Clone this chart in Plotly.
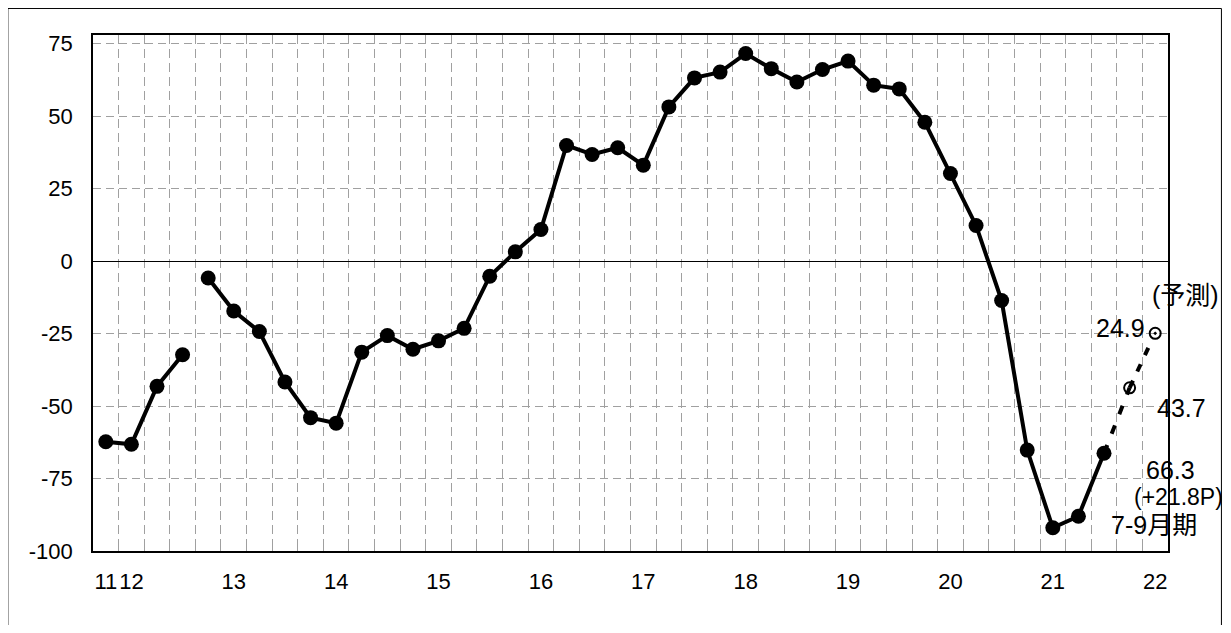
import plotly.graph_objects as go

# category index 0 = 2011 Q4 ... 41 = 2022 Q1
year_tick_pos = [0, 1, 5, 9, 13, 17, 21, 25, 29, 33, 37, 41]
year_tick_text = ["11", "12", "13", "14", "15", "16", "17", "18", "19", "20", "21", "22"]

old_x = [0, 1, 2, 3]
old_vals = [-62.3, -63.2, -43.2, -32.3]

new_x = list(range(4, 40))
new_vals = [-5.8, -17.2, -24.3, -41.7, -54.0, -55.9, -31.4, -25.7, -30.4, -27.5,
            -23.2, -5.2, 3.2, 10.9, 39.9, 36.8, 39.1, 33.1, 53.2, 63.2,
            65.2, 71.6, 66.4, 61.8, 66.1, 69.0, 60.7, 59.4, 47.9, 30.2,
            12.3, -13.6, -65.2, -92.0, -88.0, -66.3]

fc_x = [39, 40, 41]
fc_vals = [-66.3, -43.7, -24.9]

FONT = "Liberation Sans, Arial, Noto Sans CJK JP"

fig = go.Figure()
fig.add_trace(go.Scatter(x=old_x, y=old_vals, mode="lines+markers",
                         line=dict(color="black", width=4),
                         marker=dict(color="black", size=15), showlegend=False))
fig.add_trace(go.Scatter(x=new_x, y=new_vals, mode="lines+markers",
                         line=dict(color="black", width=4),
                         marker=dict(color="black", size=15), showlegend=False))
fig.add_trace(go.Scatter(x=fc_x[:2], y=fc_vals[:2], mode="lines",
                         line=dict(color="black", width=4, dash="9px,12px"),
                         showlegend=False))
fig.add_trace(go.Scatter(x=[fc_x[1], fc_x[2] - 0.2], y=[fc_vals[1], fc_vals[1] + (fc_vals[2] - fc_vals[1]) * 0.8],
                         mode="lines", line=dict(color="black", width=4, dash="8px,10px"),
                         showlegend=False))
fig.add_trace(go.Scatter(x=fc_x[1:2], y=fc_vals[1:2], mode="markers",
                         marker=dict(symbol="circle-open", color="black", size=11,
                                     line=dict(width=2)), showlegend=False))
fig.add_trace(go.Scatter(x=fc_x[2:], y=fc_vals[2:], mode="markers",
                         marker=dict(symbol="circle-open-dot", color="black", size=11,
                                     line=dict(width=2)), showlegend=False))

ann = [
    ("(予測)", 40.84, -11.6, "left", 25),
    ("24.9", 40.64, -23.0, "right", 25),
    ("43.7", 41.05, -50.5, "left", 25),
    ("66.3", 40.60, -71.9, "left", 25),
    ("(+21.8P)", 40.13, -81.2, "left", 23),
    ("7-9月期", 39.22, -91.0, "left", 25),
]
for t, x, y, xa, fs in ann:
    fig.add_annotation(x=x, y=y, text=t, showarrow=False, xanchor=xa, yanchor="middle",
                       borderpad=0,
                       font=dict(size=fs, color="black", family=FONT))

# outer frame
fig.add_shape(type="rect", xref="paper", yref="paper", x0=-0.0792, x1=1.0497,
              y0=-0.3, y1=1.0514, line=dict(color="black", width=1), layer="below")

grid_x = [i + 0.5 for i in range(41)]

fig.update_layout(
    width=1215, height=617,
    margin=dict(l=85, r=55, t=27, b=74),
    plot_bgcolor="white", paper_bgcolor="white",
    font=dict(family=FONT, size=22, color="black"),
    xaxis=dict(range=[-0.5, 41.5], tickvals=year_tick_pos, ticktext=year_tick_text,
               tickangle=0,
               showgrid=False, zeroline=False, showline=True, linecolor="black",
               linewidth=1.5, mirror=True, ticks="", ticklabelstandoff=10,
               minor=dict(tickvals=grid_x, showgrid=True, gridcolor="#a0a0a0",
                          gridwidth=1, griddash="9px,5px", ticks="inside",
                          ticklen=6, tickcolor="#a0a0a0")),
    yaxis=dict(range=[-100, 78], tickvals=[-100, -75, -50, -25, 0, 25, 50, 75],
               ticktext=["-100", "-75", "-50", "-25", "0", "25", "50", "75"],
               showgrid=True, gridcolor="#a0a0a0", gridwidth=1, griddash="8px,5px",
               zeroline=True, zerolinecolor="black", zerolinewidth=1,
               showline=True, linecolor="black", linewidth=1.5, mirror=True,
               ticks="", ticklabelstandoff=14),
)

fig.write_html("out.html")
